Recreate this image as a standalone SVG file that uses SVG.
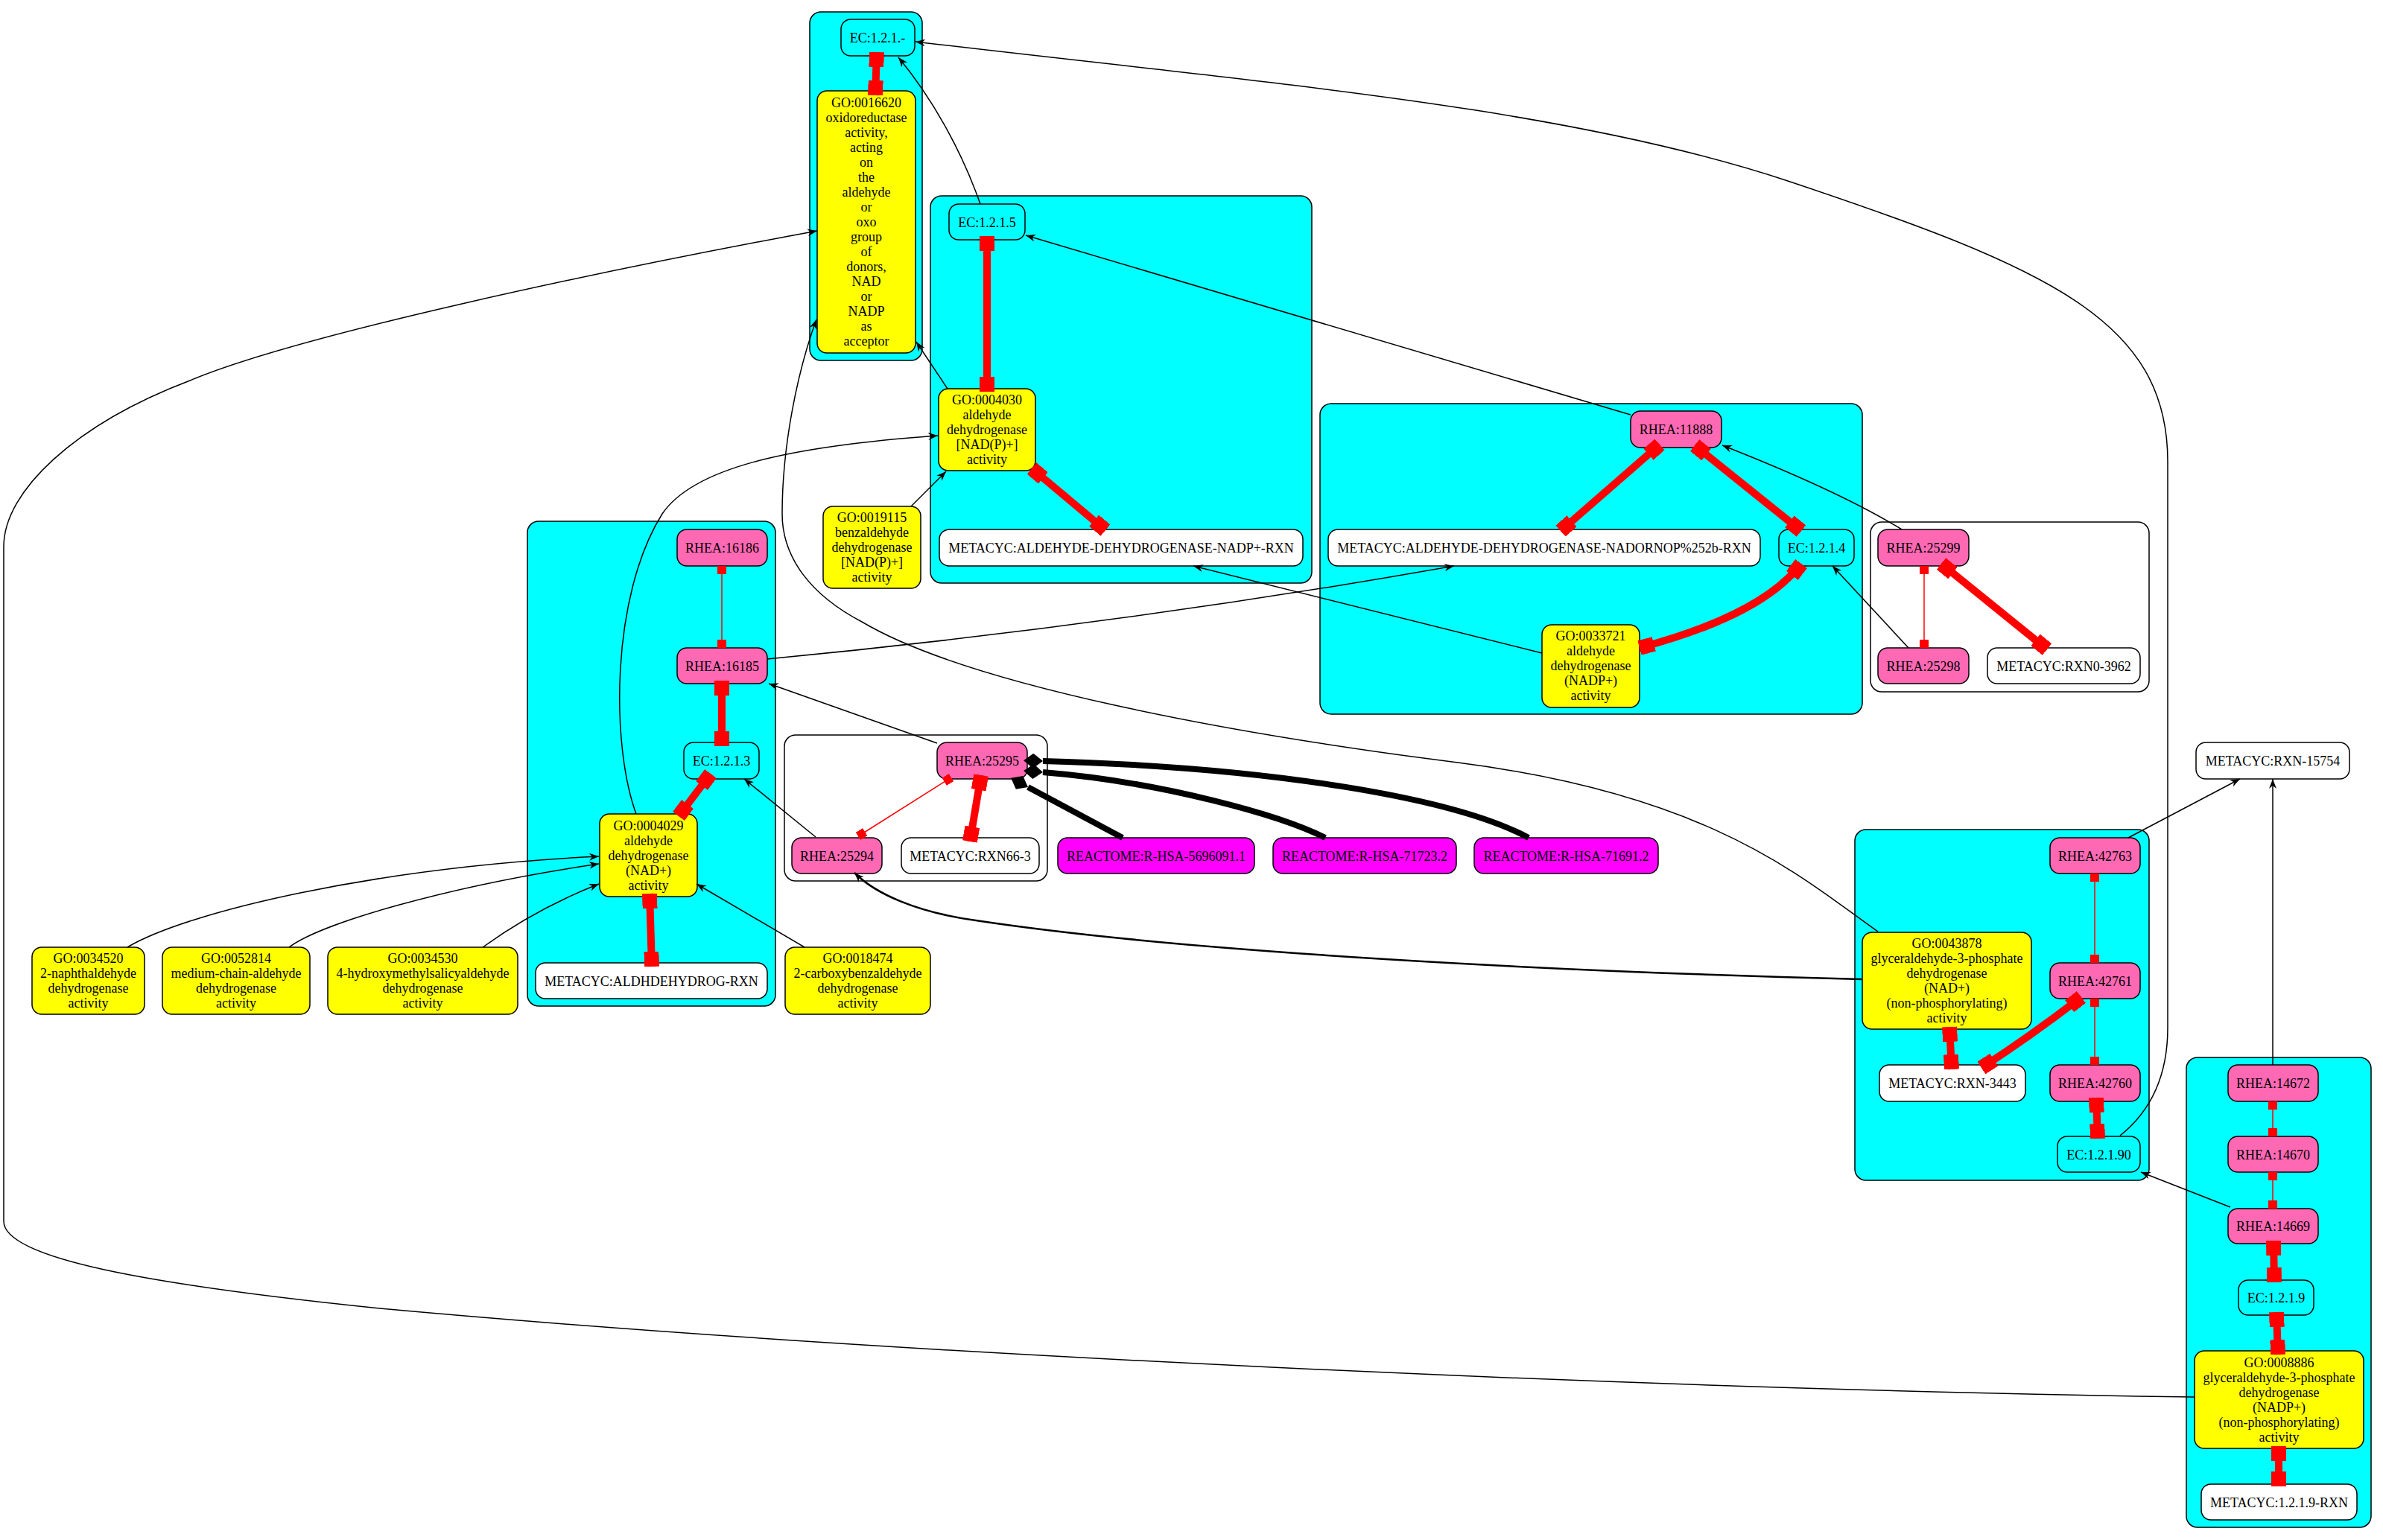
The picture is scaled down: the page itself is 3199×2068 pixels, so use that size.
<svg xmlns="http://www.w3.org/2000/svg" width="3199" height="2068" viewBox="0 0 3199 2068">
<style>
.cl{stroke:#000;stroke-width:1.5}
.cy{fill:#00ffff}
.wh{fill:#ffffff}
.n rect{stroke:#000;stroke-width:1.5}
.go rect{fill:#ffff00}
.rh rect{fill:#ff69b4}
.mc rect{fill:#ffffff}
.ec rect{fill:#00ffff}
.re rect{fill:#ff00ff}
text{font-family:"Liberation Serif","Times New Roman",serif;font-size:18px;text-anchor:middle;fill:#000}
.a{fill:none;stroke:#000;stroke-width:1.5;marker-end:url(#vee)}
.a2{fill:none;stroke:#000;stroke-width:2.5;marker-end:url(#vee)}
.rb{fill:none;stroke:#f00;stroke-width:10;marker-start:url(#boxT);marker-end:url(#boxT)}
.rt{fill:none;stroke:#f00;stroke-width:1.5;marker-start:url(#boxS);marker-end:url(#boxS)}
.bk{fill:none;stroke:#000;stroke-width:8;marker-end:url(#diaK)}
</style>
<defs>
<marker id="vee" markerUnits="userSpaceOnUse" markerWidth="13" markerHeight="10" viewBox="0 0 13 10" refX="13" refY="5" orient="auto"><path d="M0,0 L13,5 L0,10 L4,5 z" fill="#000"/></marker>
<marker id="boxT" markerUnits="userSpaceOnUse" markerWidth="20" markerHeight="20" viewBox="0 0 20 20" refX="20" refY="10" orient="auto-start-reverse"><rect width="20" height="20" fill="#f00"/></marker>
<marker id="boxS" markerUnits="userSpaceOnUse" markerWidth="11" markerHeight="12" viewBox="0 0 11 12" refX="11" refY="6" orient="auto-start-reverse"><rect width="11" height="12" fill="#f00"/></marker>
<marker id="diaK" markerUnits="userSpaceOnUse" markerWidth="26" markerHeight="20" viewBox="0 0 26 20" refX="0" refY="10" orient="auto"><path d="M0,10 L13,0 L26,10 L13,20 z" fill="#000"/></marker>
</defs>
<rect width="3199" height="2068" fill="#fff"/>
<g id="clusters">
<rect id="clusterA" class="cl cy" x="1087" y="16" width="151" height="468" rx="15"/>
<rect id="clusterB" class="cl cy" x="1249" y="263" width="512" height="520" rx="15"/>
<rect id="clusterC" class="cl cy" x="1772" y="542" width="728" height="417" rx="15"/>
<rect id="clusterD" class="cl cy" x="708" y="700" width="333" height="651" rx="15"/>
<rect id="clusterE" class="cl wh" x="1053" y="987" width="353" height="196" rx="15"/>
<rect id="clusterF" class="cl wh" x="2511" y="701" width="374" height="228" rx="15"/>
<rect id="clusterG" class="cl cy" x="2490" y="1114" width="395" height="471" rx="15"/>
<rect id="clusterH" class="cl cy" x="2935" y="1420" width="248" height="631" rx="15"/>
</g>
<g id="n_EC_1_2_1_" class="n ec"><rect x="1129" y="26" width="99" height="49" rx="13"/><text x="1178" y="57">EC:1.2.1.-</text></g>
<g id="n_GO_0016620" class="n go"><rect x="1097" y="122" width="132" height="352" rx="13"/><text><tspan x="1163" y="144">GO:0016620</tspan><tspan x="1163" y="164">oxidoreductase</tspan><tspan x="1163" y="184">activity,</tspan><tspan x="1163" y="204">acting</tspan><tspan x="1163" y="224">on</tspan><tspan x="1163" y="244">the</tspan><tspan x="1163" y="264">aldehyde</tspan><tspan x="1163" y="284">or</tspan><tspan x="1163" y="304">oxo</tspan><tspan x="1163" y="324">group</tspan><tspan x="1163" y="344">of</tspan><tspan x="1163" y="364">donors,</tspan><tspan x="1163" y="384">NAD</tspan><tspan x="1163" y="404">or</tspan><tspan x="1163" y="424">NADP</tspan><tspan x="1163" y="444">as</tspan><tspan x="1163" y="464">acceptor</tspan></text></g>
<g id="n_EC_1_2_1_5" class="n ec"><rect x="1274" y="274" width="102" height="48" rx="13"/><text x="1325" y="304.5">EC:1.2.1.5</text></g>
<g id="n_GO_0004030" class="n go"><rect x="1260" y="522" width="130" height="110" rx="13"/><text><tspan x="1325" y="543">GO:0004030</tspan><tspan x="1325" y="563">aldehyde</tspan><tspan x="1325" y="583">dehydrogenase</tspan><tspan x="1325" y="603">[NAD(P)+]</tspan><tspan x="1325" y="623">activity</tspan></text></g>
<g id="n_MC_NADP" class="n mc"><rect x="1261" y="711" width="488" height="49" rx="13"/><text x="1505" y="742">METACYC:ALDEHYDE-DEHYDROGENASE-NADP+-RXN</text></g>
<g id="n_GO_0019115" class="n go"><rect x="1105" y="680" width="131" height="110" rx="13"/><text><tspan x="1170.5" y="701">GO:0019115</tspan><tspan x="1170.5" y="721">benzaldehyde</tspan><tspan x="1170.5" y="741">dehydrogenase</tspan><tspan x="1170.5" y="761">[NAD(P)+]</tspan><tspan x="1170.5" y="781">activity</tspan></text></g>
<g id="n_RHEA_11888" class="n rh"><rect x="2189" y="552" width="122" height="49" rx="13"/><text x="2250" y="583">RHEA:11888</text></g>
<g id="n_MC_NADORNOP" class="n mc"><rect x="1783" y="711" width="580" height="49" rx="13"/><text x="2073" y="742">METACYC:ALDEHYDE-DEHYDROGENASE-NADORNOP%252b-RXN</text></g>
<g id="n_EC_1_2_1_4" class="n ec"><rect x="2388" y="711" width="101" height="49" rx="13"/><text x="2438.5" y="742">EC:1.2.1.4</text></g>
<g id="n_GO_0033721" class="n go"><rect x="2070" y="839" width="131" height="111" rx="13"/><text><tspan x="2135.5" y="860">GO:0033721</tspan><tspan x="2135.5" y="880">aldehyde</tspan><tspan x="2135.5" y="900">dehydrogenase</tspan><tspan x="2135.5" y="920">(NADP+)</tspan><tspan x="2135.5" y="940">activity</tspan></text></g>
<g id="n_RHEA_25299" class="n rh"><rect x="2521" y="711" width="122" height="49" rx="13"/><text x="2582" y="742">RHEA:25299</text></g>
<g id="n_RHEA_25298" class="n rh"><rect x="2521" y="870" width="122" height="48" rx="13"/><text x="2582" y="900.5">RHEA:25298</text></g>
<g id="n_MC_RXN0_3962" class="n mc"><rect x="2668" y="870" width="205" height="48" rx="13"/><text x="2770.5" y="900.5">METACYC:RXN0-3962</text></g>
<g id="n_RHEA_16186" class="n rh"><rect x="909" y="711" width="121" height="49" rx="13"/><text x="969.5" y="742">RHEA:16186</text></g>
<g id="n_RHEA_16185" class="n rh"><rect x="909" y="870" width="121" height="48" rx="13"/><text x="969.5" y="900.5">RHEA:16185</text></g>
<g id="n_EC_1_2_1_3" class="n ec"><rect x="918" y="997" width="101" height="49" rx="13"/><text x="968.5" y="1028">EC:1.2.1.3</text></g>
<g id="n_GO_0004029" class="n go"><rect x="805" y="1093" width="131" height="111" rx="13"/><text><tspan x="870.5" y="1115">GO:0004029</tspan><tspan x="870.5" y="1135">aldehyde</tspan><tspan x="870.5" y="1155">dehydrogenase</tspan><tspan x="870.5" y="1175">(NAD+)</tspan><tspan x="870.5" y="1195">activity</tspan></text></g>
<g id="n_MC_ALDHDEHYDROG" class="n mc"><rect x="719" y="1293" width="311" height="48" rx="13"/><text x="874.5" y="1323.5">METACYC:ALDHDEHYDROG-RXN</text></g>
<g id="n_RHEA_25295" class="n rh"><rect x="1258" y="997" width="121" height="49" rx="13"/><text x="1318.5" y="1028">RHEA:25295</text></g>
<g id="n_RHEA_25294" class="n rh"><rect x="1063" y="1125" width="121" height="48" rx="13"/><text x="1123.5" y="1155.5">RHEA:25294</text></g>
<g id="n_MC_RXN66_3" class="n mc"><rect x="1210" y="1125" width="185" height="48" rx="13"/><text x="1302.5" y="1155.5">METACYC:RXN66-3</text></g>
<g id="n_RE_5696091" class="n re"><rect x="1420" y="1125" width="264" height="48" rx="13"/><text x="1552" y="1155.5">REACTOME:R-HSA-5696091.1</text></g>
<g id="n_RE_71723" class="n re"><rect x="1709" y="1125" width="246" height="48" rx="13"/><text x="1832" y="1155.5">REACTOME:R-HSA-71723.2</text></g>
<g id="n_RE_71691" class="n re"><rect x="1979" y="1125" width="247" height="48" rx="13"/><text x="2102.5" y="1155.5">REACTOME:R-HSA-71691.2</text></g>
<g id="n_GO_0018474" class="n go"><rect x="1054" y="1272" width="195" height="90" rx="13"/><text><tspan x="1151.5" y="1293">GO:0018474</tspan><tspan x="1151.5" y="1313">2-carboxybenzaldehyde</tspan><tspan x="1151.5" y="1333">dehydrogenase</tspan><tspan x="1151.5" y="1353">activity</tspan></text></g>
<g id="n_GO_0034520" class="n go"><rect x="43" y="1272" width="151" height="90" rx="13"/><text><tspan x="118.5" y="1293">GO:0034520</tspan><tspan x="118.5" y="1313">2-naphthaldehyde</tspan><tspan x="118.5" y="1333">dehydrogenase</tspan><tspan x="118.5" y="1353">activity</tspan></text></g>
<g id="n_GO_0052814" class="n go"><rect x="218" y="1272" width="198" height="90" rx="13"/><text><tspan x="317" y="1293">GO:0052814</tspan><tspan x="317" y="1313">medium-chain-aldehyde</tspan><tspan x="317" y="1333">dehydrogenase</tspan><tspan x="317" y="1353">activity</tspan></text></g>
<g id="n_GO_0034530" class="n go"><rect x="440" y="1272" width="255" height="90" rx="13"/><text><tspan x="567.5" y="1293">GO:0034530</tspan><tspan x="567.5" y="1313">4-hydroxymethylsalicyaldehyde</tspan><tspan x="567.5" y="1333">dehydrogenase</tspan><tspan x="567.5" y="1353">activity</tspan></text></g>
<g id="n_MC_RXN_15754" class="n mc"><rect x="2948" y="997" width="206" height="49" rx="13"/><text x="3051" y="1028">METACYC:RXN-15754</text></g>
<g id="n_RHEA_42763" class="n rh"><rect x="2752" y="1125" width="121" height="48" rx="13"/><text x="2812.5" y="1155.5">RHEA:42763</text></g>
<g id="n_RHEA_42761" class="n rh"><rect x="2752" y="1293" width="121" height="48" rx="13"/><text x="2812.5" y="1323.5">RHEA:42761</text></g>
<g id="n_GO_0043878" class="n go"><rect x="2500" y="1252" width="227" height="130" rx="13"/><text><tspan x="2613.5" y="1273">GO:0043878</tspan><tspan x="2613.5" y="1293">glyceraldehyde-3-phosphate</tspan><tspan x="2613.5" y="1313">dehydrogenase</tspan><tspan x="2613.5" y="1333">(NAD+)</tspan><tspan x="2613.5" y="1353">(non-phosphorylating)</tspan><tspan x="2613.5" y="1373">activity</tspan></text></g>
<g id="n_MC_RXN_3443" class="n mc"><rect x="2523" y="1430" width="196" height="49" rx="13"/><text x="2621" y="1461">METACYC:RXN-3443</text></g>
<g id="n_RHEA_42760" class="n rh"><rect x="2752" y="1430" width="121" height="49" rx="13"/><text x="2812.5" y="1461">RHEA:42760</text></g>
<g id="n_EC_1_2_1_90" class="n ec"><rect x="2762" y="1526" width="111" height="48" rx="13"/><text x="2817.5" y="1556.5">EC:1.2.1.90</text></g>
<g id="n_RHEA_14672" class="n rh"><rect x="2991" y="1430" width="121" height="49" rx="13"/><text x="3051.5" y="1461">RHEA:14672</text></g>
<g id="n_RHEA_14670" class="n rh"><rect x="2991" y="1526" width="121" height="48" rx="13"/><text x="3051.5" y="1556.5">RHEA:14670</text></g>
<g id="n_RHEA_14669" class="n rh"><rect x="2991" y="1623" width="121" height="47" rx="13"/><text x="3051.5" y="1653">RHEA:14669</text></g>
<g id="n_EC_1_2_1_9" class="n ec"><rect x="3005" y="1719" width="101" height="47" rx="13"/><text x="3055.5" y="1749">EC:1.2.1.9</text></g>
<g id="n_GO_0008886" class="n go"><rect x="2946" y="1814" width="227" height="131" rx="13"/><text><tspan x="3059.5" y="1836">GO:0008886</tspan><tspan x="3059.5" y="1856">glyceraldehyde-3-phosphate</tspan><tspan x="3059.5" y="1876">dehydrogenase</tspan><tspan x="3059.5" y="1896">(NADP+)</tspan><tspan x="3059.5" y="1916">(non-phosphorylating)</tspan><tspan x="3059.5" y="1936">activity</tspan></text></g>
<g id="n_MC_1_2_1_9_RXN" class="n mc"><rect x="2955" y="1993" width="209" height="48" rx="13"/><text x="3059.5" y="2023.5">METACYC:1.2.1.9-RXN</text></g>
<g id="connectors">
<path class="a" d="M1316,274 C1290,200 1250,130 1206,77"/>
<path class="a" d="M2846,1525 C2890,1490 2910,1440 2910,1380 L2910,620 C2910,430 2750,360 2400,243 C2100,143 1700,112 1229,56"/>
<path class="a" d="M1272,522 L1230,459"/>
<path class="a" d="M2521,1251 C2420,1180 2300,1068 1957,1024 C1650,985 1300,920 1157,835 C1090,800 1050,750 1050,690 C1050,600 1070,500 1096,429"/>
<path class="a" d="M2946,1876 C2200,1865 1200,1820 510,1757 C200,1725 5,1690 5,1640 L5,734 C5,660 100,570 255,511 C400,450 800,365 1097,310"/>
<path class="a" d="M1223,680 L1270,633"/>
<path class="a" d="M854,1093 C820,1000 820,800 889,690 C930,630 1050,600 1259,585"/>
<path class="a" d="M2189,557 L1377,316"/>
<path class="a" d="M2553,711 Q2470,660 2312,598"/>
<path class="a" d="M2070,877 L1602,760"/>
<path class="a" d="M1030,885 Q1500,840 1952,760"/>
<path class="a" d="M1258,998 L1032,918"/>
<path class="a" d="M1095,1124 L999,1046"/>
<path class="a" d="M1080,1272 L935,1187"/>
<path class="a" d="M171,1272 C250,1225 500,1165 804,1150"/>
<path class="a" d="M388,1272 C430,1240 600,1190 804,1160"/>
<path class="a" d="M648,1272 Q720,1220 804,1187"/>
<path class="a2" d="M2499,1315 C2100,1305 1600,1280 1310,1236 C1230,1225 1175,1200 1147,1172"/>
<path class="a" d="M2562,870 L2460,760"/>
<path class="a" d="M2857,1125 L3007,1046"/>
<path class="a" d="M3051,1430 L3051,1046"/>
<path class="a" d="M2994,1621 L2874,1574"/>
<path class="rb" d="M1177,70 L1175,128"/>
<path class="rb" d="M1325,317 L1325,526"/>
<path class="rb" d="M969,914 L969,1002"/>
<path class="rb" d="M954,1039 L911,1096"/>
<path class="rb" d="M872,1200 L875,1298"/>
<path class="rb" d="M1317,1041 L1302,1130"/>
<path class="rb" d="M2617,1379 L2620,1436"/>
<path class="rb" d="M2814,1474 L2816,1529"/>
<path class="rb" d="M3052,1666 L3053,1722"/>
<path class="rb" d="M3056,1762 L3058,1819"/>
<path class="rb" d="M3059,1942 L3059,1996"/>
<path class="rb" d="M1385,629 L1484,712"/>
<path class="rb" d="M2228,597 L2095,713"/>
<path class="rb" d="M2275,598 L2418,713"/>
<path class="rb" d="M2606,757 L2748,872"/>
<path class="rb" d="M2418,757 C2385,800 2320,838 2201,870"/>
<path class="rb" d="M2794,1339 Q2725,1392 2660,1434"/>
<path class="rt" d="M969,760 L969,870"/>
<path class="rt" d="M2583,760 L2583,870"/>
<path class="rt" d="M2812,1173 L2812,1293"/>
<path class="rt" d="M2812,1341 L2812,1430"/>
<path class="rt" d="M3051,1479 L3051,1526"/>
<path class="rt" d="M3051,1574 L3051,1623"/>
<path class="rt" d="M1277,1044 L1152,1123"/>
<path class="bk" d="M1507,1125 L1380,1057"/>
<path class="bk" d="M1779,1125 C1720,1095 1560,1050 1400,1037"/>
<path class="bk" d="M2052,1125 C1950,1070 1700,1030 1400,1022"/>
</g>
</svg>
